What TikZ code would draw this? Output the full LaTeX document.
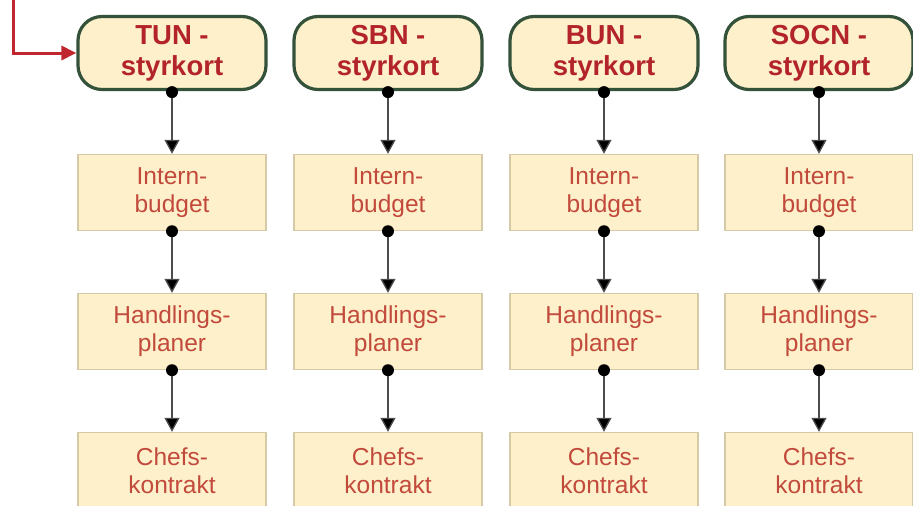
\documentclass[tikz,border=0pt]{standalone}
\usepackage{fontspec}
\setmainfont{Liberation Sans}
\usetikzlibrary{arrows.meta}
\definecolor{cream}{HTML}{FDF0CA}
\definecolor{topred}{HTML}{B3232A}
\definecolor{lowred}{HTML}{C24A3C}
\definecolor{dgreen}{HTML}{34523A}
\definecolor{tanline}{HTML}{D6CAA6}
\definecolor{feedred}{HTML}{C0262E}
\tikzset{
  topbox/.style={draw=dgreen, line width=3.2pt, fill=cream, rounded corners=24pt,
    minimum width=188pt, minimum height=73pt, align=center, inner sep=0pt,
    text=topred, font=\fontsize{27.5}{33}\selectfont\bfseries},
  lowbox/.style={draw=tanline, line width=1.4pt, fill=cream,
    minimum width=188pt, minimum height=76pt, align=center, inner sep=0pt,
    text=lowred, font=\fontsize{24.5}{28}\selectfont},
  conn/.style={draw=black!70, line width=1.3pt, -{Triangle[width=15pt,length=14pt,fill=black]}},
  dot/.style={fill=black},
  feed/.style={draw=feedred, line width=3pt, -{Triangle[width=14pt,length=15pt]}}
}
\begin{document}
\begin{tikzpicture}[x=1pt,y=-1pt]
\clip (0,0) rectangle (913,506);
\fill[white] (0,0) rectangle (913,506);
\foreach \c/\lab/\x in {a/TUN/172, b/SBN/388, c/BUN/604, d/SOCN/819}{
  \node[topbox] (\c0) at (\x,53) {\lab\ -\\[-2pt]styrkort};
  \node[lowbox] (\c1) at (\x,192.5) {Intern-\\budget};
  \node[lowbox] (\c2) at (\x,331.5) {Handlings-\\planer};
  \node[lowbox] (\c3) at (\x,470.5) {Chefs-\\kontrakt};
  \draw[conn] (\c0.south) -- (\c1.north);
  \draw[conn] (\c1.south) -- (\c2.north);
  \draw[conn] (\c2.south) -- (\c3.north);
  \fill[dot] ([yshift=-1pt]\c0.south) circle (6);
  \fill[dot] (\c1.south) circle (6);
  \fill[dot] (\c2.south) circle (6);
}
\coordinate (src) at (13,-2);
\draw[feed] (src) |- (a0.west);
\end{tikzpicture}
\end{document}
